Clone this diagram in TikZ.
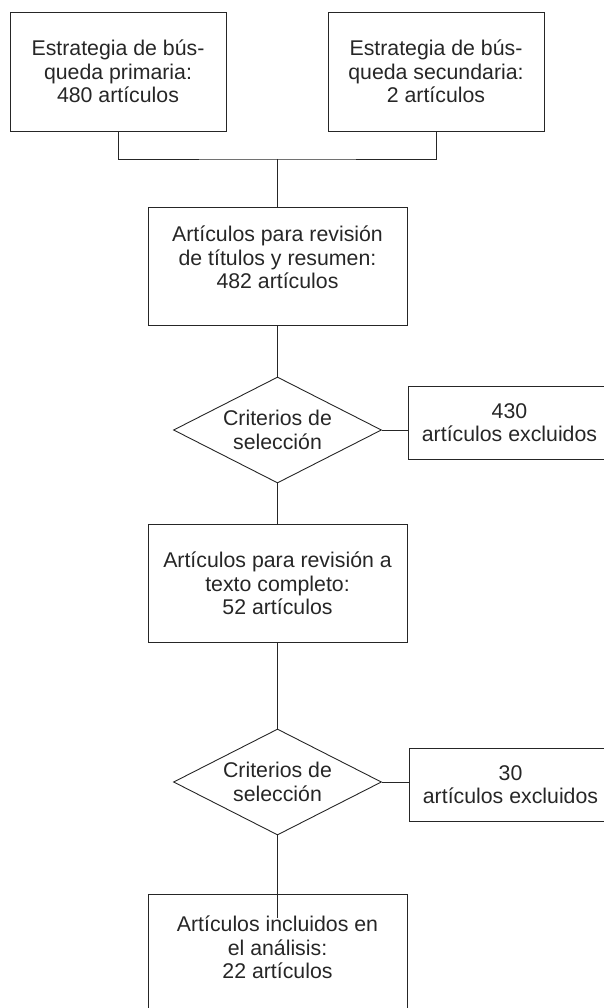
\documentclass[tikz,border=0pt]{standalone}
\usepackage{fontspec}
\setmainfont{Liberation Sans}
\usetikzlibrary{shapes,shapes.geometric,positioning,calc}

\begin{document}
\begin{tikzpicture}[x=1pt, y=-1pt, line width=0.9pt]
  % styles
  \tikzstyle{box}=[rectangle, draw=black!85, text=black!85, minimum width=259pt, minimum height=118pt, inner sep=0pt, align=center, font=\fontsize{21.3pt}{23.5pt}\selectfont];
  \tikzstyle{topbox}=[box, minimum width=216pt, minimum height=119pt];
  \tikzstyle{crit}=[diamond, draw=black!85, text=black!85, aspect=1.96, minimum width=208pt, minimum height=106pt, inner sep=-10pt, align=center, font=\fontsize{21.3pt}{23.5pt}\selectfont];
  \tikzstyle{excl}=[box, minimum width=203pt, minimum height=73pt];
  \tikzstyle{link}=[draw=black!85, line width=0.9pt];

  \useasboundingbox (0,0) rectangle (604,1008);

  %==================== SEARCH ====================
  \node[topbox] (prim) at (118,71.5) {Estrategia de bús-\\queda primaria:\\480 artículos};
  \node[topbox] (sec)  at (436,71.5) {Estrategia de bús-\\queda secundaria:\\2 artículos};
  \coordinate (join) at (277.5,159);

  %==================== SCREENING ====================
  \node[box]  (tit)   at (277.5,266) {Artículos para revisión\\de títulos y resumen:\\482 artículos\\[-6pt]};
  \node[crit] (crit1) at (277.5,430) {Criterios de\\selección};
  \node[excl] (exc1)  at (509.5,422.5) {430\\artículos excluidos};

  %==================== FULL TEXT ====================
  \node[box]  (full)  at (277.5,583.5) {Artículos para revisión a\\texto completo:\\52 artículos};
  \node[crit] (crit2) at (277.5,782) {Criterios de\\selección};
  \node[excl] (exc2)  at (510.5,784.5) {30\\artículos excluidos};

  %==================== INCLUDED ====================
  \node[box]  (incl)  at (277.5,953) {Artículos incluidos en\\el análisis:\\22 artículos\\[-12pt]};
  \coordinate (inclin) at ($(incl.north)+(0,24)$);

  % connectors
  \draw[link] (prim.south) |- (join) -| (sec.south);
  \draw[link] (join) -- (tit.north);
  \draw[link] (tit.south) -- (crit1.north);
  \draw[link] (crit1.east) -- (crit1.east -| exc1.west);
  \draw[link] (crit1.south) -- (full.north);
  \draw[link] (full.south) -- (crit2.north);
  \draw[link] (crit2.east) -- (crit2.east -| exc2.west);
  \draw[link] (crit2.south) -- (inclin);
\end{tikzpicture}
\end{document}
